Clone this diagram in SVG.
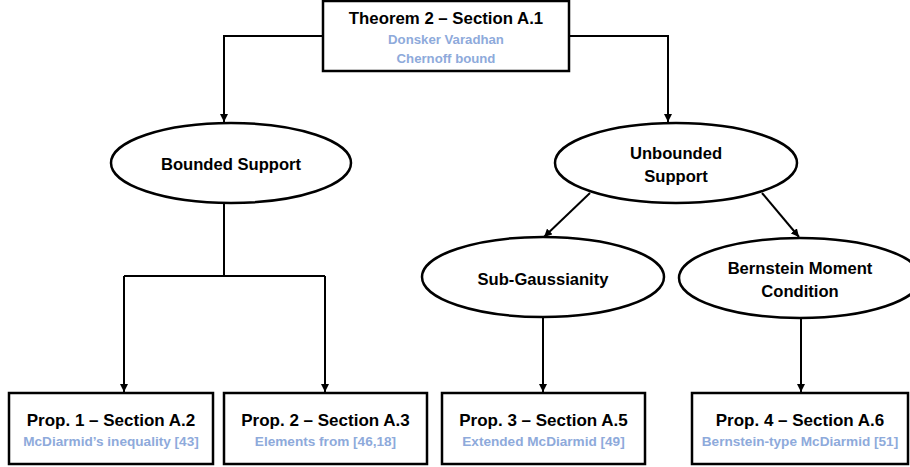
<svg xmlns="http://www.w3.org/2000/svg" width="910" height="467" viewBox="0 0 910 467">
<defs>
<marker id="ah" viewBox="0 0 10 10" refX="10" refY="5" markerWidth="4" markerHeight="4" orient="auto" markerUnits="strokeWidth">
<path d="M0,0 L10,5 L0,10 z" fill="#000"/>
</marker>
<style>
.box{fill:#fff;stroke:#000;stroke-width:2.5}
.ell{fill:#fff;stroke:#000;stroke-width:2.5}
.t{font-family:"Liberation Sans",Arial,sans-serif;font-weight:bold;fill:#000;text-anchor:middle;dominant-baseline:central}
.s{font-family:"Liberation Sans",Arial,sans-serif;font-weight:bold;fill:#8eaadb;text-anchor:middle;dominant-baseline:central}
.c{fill:none;stroke:#000;stroke-width:2}
</style>
</defs>
<rect width="910" height="467" fill="#fff"/>
<g id="connectors">
<path class="c" d="M323,36 H224 V122" marker-end="url(#ah)"/>
<path class="c" d="M569,36 H668 V122" marker-end="url(#ah)"/>
<path class="c" d="M224,203 V276"/>
<path class="c" d="M124,276 H325"/>
<path class="c" d="M124,276 V392" marker-end="url(#ah)"/>
<path class="c" d="M325,276 V392" marker-end="url(#ah)"/>
<path class="c" d="M590,193 L544,237" marker-end="url(#ah)"/>
<path class="c" d="M762,193 L799,237" marker-end="url(#ah)"/>
<path class="c" d="M543,318 V392" marker-end="url(#ah)"/>
<path class="c" d="M801,319 V392" marker-end="url(#ah)"/>
</g>
<g id="theorem2">
<rect class="box" x="323" y="1" width="246" height="70"/>
<text class="t" x="446" y="18" font-size="16.8">Theorem 2 – Section A.1</text>
<text class="s" x="446" y="39" font-size="13.2">Donsker Varadhan</text>
<text class="s" x="446" y="58" font-size="13.2">Chernoff bound</text>
</g>
<g id="bounded">
<ellipse class="ell" cx="231" cy="163" rx="120" ry="40"/>
<text class="t" x="231" y="164" font-size="16.6">Bounded Support</text>
</g>
<g id="unbounded">
<ellipse class="ell" cx="676" cy="163" rx="121" ry="40"/>
<text class="t" x="676" y="153" font-size="16.6">Unbounded</text>
<text class="t" x="676" y="176" font-size="16.6">Support</text>
</g>
<g id="subgaussian">
<ellipse class="ell" cx="543" cy="277" rx="121" ry="40"/>
<text class="t" x="543" y="279" font-size="16.6">Sub-Gaussianity</text>
</g>
<g id="bernstein">
<ellipse class="ell" cx="800" cy="278" rx="121" ry="40"/>
<text class="t" x="800" y="268" font-size="16.6">Bernstein Moment</text>
<text class="t" x="800" y="291" font-size="16.6">Condition</text>
</g>
<g id="prop1">
<rect class="box" x="9" y="393" width="204" height="71"/>
<text class="t" x="111" y="420" font-size="17">Prop. 1 – Section A.2</text>
<text class="s" x="111" y="441" font-size="13.6">McDiarmid’s inequality [43]</text>
</g>
<g id="prop2">
<rect class="box" x="224" y="393" width="203" height="71"/>
<text class="t" x="325.5" y="420" font-size="17">Prop. 2 – Section A.3</text>
<text class="s" x="325.5" y="441" font-size="13.6">Elements from [46,18]</text>
</g>
<g id="prop3">
<rect class="box" x="442" y="393" width="203" height="71"/>
<text class="t" x="543.5" y="420" font-size="17">Prop. 3 – Section A.5</text>
<text class="s" x="543.5" y="441" font-size="13.6">Extended McDiarmid [49]</text>
</g>
<g id="prop4">
<rect class="box" x="692" y="393" width="216" height="71"/>
<text class="t" x="800" y="420" font-size="17">Prop. 4 – Section A.6</text>
<text class="s" x="800" y="441" font-size="13.6">Bernstein-type McDiarmid [51]</text>
</g>
</svg>
